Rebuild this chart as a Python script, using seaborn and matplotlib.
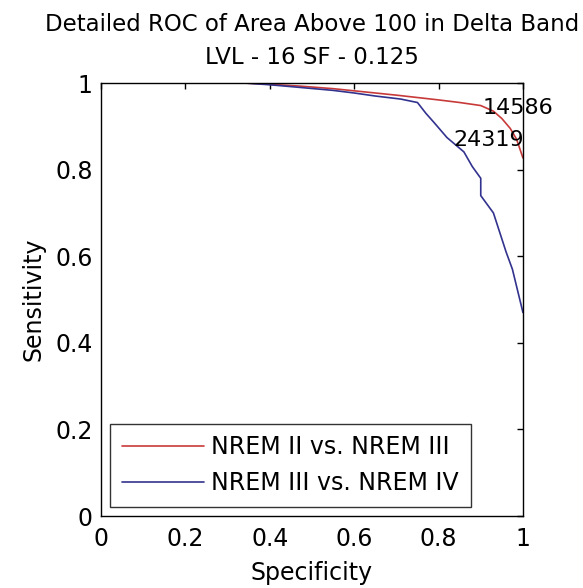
import matplotlib
matplotlib.use("Agg")
import matplotlib.pyplot as plt
import seaborn as sns
import pandas as pd

sns.set_style("white")
plt.rcParams['font.family'] = ['DejaVu Sans']
plt.rcParams['text.color'] = 'black'
plt.rcParams['axes.labelcolor'] = 'black'
plt.rcParams['xtick.color'] = 'black'
plt.rcParams['ytick.color'] = 'black'

red_spec = [0.34, 0.40, 0.47, 0.55, 0.60, 0.70, 0.80, 0.85, 0.90, 0.93, 0.95, 0.97, 0.985, 1.0]
red_sens = [1.0, 0.997, 0.993, 0.987, 0.982, 0.972, 0.961, 0.955, 0.948, 0.935, 0.918, 0.895, 0.87, 0.827]

blue_spec = [0.34, 0.40, 0.47, 0.55, 0.60, 0.65, 0.71, 0.75, 0.77, 0.79, 0.82, 0.86, 0.88,
             0.90, 0.90, 0.93, 0.945, 0.96, 0.975, 0.99, 1.0]
blue_sens = [1.0, 0.996, 0.99, 0.983, 0.977, 0.97, 0.963, 0.955, 0.93, 0.908, 0.874, 0.841, 0.807,
             0.78, 0.74, 0.70, 0.655, 0.61, 0.57, 0.51, 0.47]

series_names = ["NREM II vs. NREM III", "NREM III vs. NREM IV"]
annotations = ["14586", "24319"]
annot_pos = [(0.905, 0.943), (0.834, 0.868)]
ticks = [0, 0.2, 0.4, 0.6, 0.8, 1]
tick_labels = ["0", "0.2", "0.4", "0.6", "0.8", "1"]

df = pd.concat([
    pd.DataFrame({"Specificity": red_spec, "Sensitivity": red_sens, "Series": series_names[0]}),
    pd.DataFrame({"Specificity": blue_spec, "Sensitivity": blue_sens, "Series": series_names[1]}),
], ignore_index=True)

fig = plt.figure(figsize=(5.83, 5.88), dpi=100)
ax = fig.add_axes([0.1732, 0.1224, 0.7238, 0.7364])

sns.lineplot(data=df, x="Specificity", y="Sensitivity", hue="Series", sort=False,
             estimator=None, palette=["#c83a3a", "#32328f"], linewidth=1.2, ax=ax)

for txt, (x, y) in zip(annotations, annot_pos):
    ax.text(x, y, txt, fontsize=16, va="center", ha="left", color="black")

ax.set_xlim(0, 1)
ax.set_ylim(0, 1)
ax.set_xticks(ticks)
ax.set_xticklabels(tick_labels)
ax.set_yticks(ticks)
ax.set_yticklabels(tick_labels)
ax.tick_params(direction="in", top=True, right=True, length=4.5, width=1, labelsize=17)
ax.tick_params(axis="x", pad=8)
ax.tick_params(axis="y", pad=6)
for s in ax.spines.values():
    s.set_color("black")
    s.set_linewidth(1)
ax.set_xlabel("Specificity", fontsize=17, labelpad=7)
ax.set_ylabel("Sensitivity", fontsize=17, labelpad=7)
title = ax.set_title("Detailed ROC of Area Above 100 in Delta Band\nLVL - 16 SF - 0.125", fontsize=16.5,
                     pad=14)
title.set_linespacing(1.55)

leg = ax.legend(loc="lower left", fontsize=17, handlelength=3.5, frameon=True, fancybox=False,
                edgecolor="black", borderaxespad=0.38, handletextpad=0.3, labelspacing=0.5,
                borderpad=0.5)
leg.get_frame().set_linewidth(1)

fig.savefig("out.png", dpi=100)
